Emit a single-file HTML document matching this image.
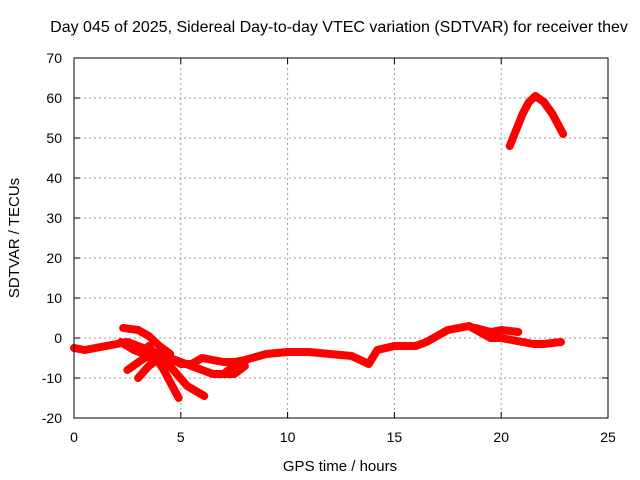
<!DOCTYPE html>
<html><head><meta charset="utf-8"><style>
body{margin:0;background:#fff}
svg{display:block;font-family:"Liberation Sans",sans-serif}
</style></head><body>
<svg width="640" height="480">
<g id="grid"></g>
<g id="series"></g>
<rect x="74" y="58" width="534" height="360" fill="none" stroke="#000" stroke-width="1"/>
<g id="ticks"></g>
<text x="339" y="32" text-anchor="middle" font-size="16">Day 045 of 2025, Sidereal Day-to-day VTEC variation (SDTVAR) for receiver thev</text>
<text x="340" y="471" text-anchor="middle" font-size="15">GPS time / hours</text>
<text x="19" y="238" text-anchor="middle" font-size="15" transform="rotate(-90 19 238)">SDTVAR / TECUs</text>
</svg>
<script>
const xTicks=[0,5,10,15,20,25];
const yTicks=[-20,-10,0,10,20,30,40,50,60,70];
const mainBand=[[0,-2.5],[0.5,-3],[1,-2.5],[2,-1.5],[2.5,-1],[3,-2],[3.5,-3],[4,-4],[4.5,-5],[5,-6.5],[5.5,-6.5],[6,-5],[6.5,-5.5],[7,-6],[7.5,-6],[8,-5.5],[9,-4],[10,-3.5],[11,-3.5],[12,-4],[13,-4.5],[13.8,-6.5],[14.2,-3],[15,-2],[16,-2],[16.5,-1],[17,0.5],[17.5,2],[18,2.5],[18.5,3],[19,1.5],[19.5,0],[20,0],[20.5,-0.5],[21,-1],[21.5,-1.5],[22,-1.5],[22.8,-1]];
const upperBranch=[[18.8,2.5],[19.5,1.5],[20,2],[20.8,1.5]];
const earlyHigh=[[2.3,2.5],[3,2],[3.5,0.5],[4,-2],[4.5,-4]];
const dropA=[[3.5,-2],[4.2,-8],[4.9,-15]];
const dropB=[[4,-4],[5.3,-12],[6.1,-14.5]];
const dropC=[[2.2,-1],[2.8,-3],[3.3,-4]];
const riseA=[[2.5,-8],[3.3,-5],[4,-4]];
const riseB=[[3,-10],[3.5,-7],[4,-5]];
const lowBand=[[4.5,-5],[5.5,-7],[6.5,-9],[7.5,-9],[8,-7]];
const lowRise=[[7,-9],[7.5,-7],[8,-6]];
const arc=[[20.4,48],[20.7,52],[21,56],[21.3,59],[21.6,60.5],[22,59],[22.4,56],[22.6,54],[22.9,51]];
const allSeries=[mainBand,upperBranch,earlyHigh,dropA,dropB,dropC,riseA,riseB,lowBand,lowRise,arc];
const names=['main-band','upper-branch','early-high','drop-a','drop-b','drop-c','rise-a','rise-b','low-band','low-rise','arc'];
const X=h=>74+h*534/25, Y=v=>418-(v+20)*4;
const NS='http://www.w3.org/2000/svg';
const grid=document.getElementById('grid'),ticks=document.getElementById('ticks'),ser=document.getElementById('series');
function mk(tag,attrs,parent){const e=document.createElementNS(NS,tag);for(const k in attrs)e.setAttribute(k,attrs[k]);parent.appendChild(e);return e;}
xTicks.forEach(t=>{const x=X(t);
 if(t>0&&t<25){const g=mk('line',{x1:x,x2:x,y1:58,y2:418,stroke:'#999','stroke-dasharray':'2,3'},grid);}
 mk('line',{x1:x,x2:x,y1:418,y2:412,stroke:'#000'},ticks);mk('line',{x1:x,x2:x,y1:58,y2:64,stroke:'#000'},ticks);
 const tx=mk('text',{x:x,y:442,'text-anchor':'middle','font-size':14},ticks);tx.textContent=t;
 });
yTicks.forEach(t=>{const y=Y(t);
 if(t>-20&&t<70){const g=mk('line',{x1:74,x2:608,y1:y,y2:y,stroke:'#999','stroke-dasharray':'2,3'},grid);}
 mk('line',{x1:74,x2:80,y1:y,y2:y,stroke:'#000'},ticks);mk('line',{x1:602,x2:608,y1:y,y2:y,stroke:'#000'},ticks);
 const tx=mk('text',{x:62,y:y+5,'text-anchor':'end','font-size':14},ticks);tx.textContent=t;
 });
allSeries.forEach((s,i)=>{const p=mk('polyline',{points:s.map(d=>X(d[0])+','+Y(d[1])).join(' '),fill:'none',stroke:'#f00','stroke-width':8,'stroke-linejoin':'round','stroke-linecap':'round'},ser);
 
 });
</script>
</body></html>
